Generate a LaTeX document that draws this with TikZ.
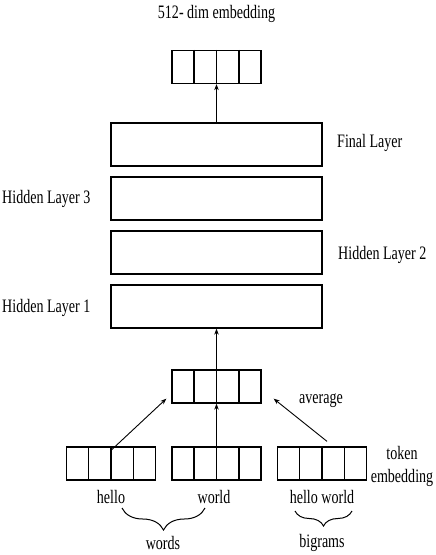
\documentclass[tikz,border=0pt]{standalone}
\usepackage{fontspec}
\setmainfont[FakeStretch=0.74]{Liberation Serif}
\usetikzlibrary{arrows.meta,decorations.pathreplacing,calc}
\begin{document}
\begin{tikzpicture}[x=1pt,y=-1pt,
  layer/.style={draw,line width=1.3pt,minimum width=211pt,minimum height=43pt,inner sep=0pt},
  vec/.style={draw,line width=1.3pt,minimum width=89pt,minimum height=33pt,inner sep=0pt},
  lbl/.style={font=\fontsize{19}{23}\selectfont,inner sep=0pt},
  conn/.style={line width=0.9pt,-{Stealth[length=6pt,width=4.5pt]}},
  brc/.style={line width=1pt,decoration={brace,mirror,amplitude=#1},decorate}
]
\useasboundingbox (0,0) rectangle (436,555);
% title
\node[lbl] (title) at (216.5,14) {512- dim embedding};
% output vector
\node[vec] (top) at (216.5,67) {};
% layers
\node[layer] (final) at (216.5,144.5) {};
\node[layer] (h3) at (216.5,198.5) {};
\node[layer] (h2) at (216.5,252.5) {};
\node[layer] (h1) at (216.5,306.5) {};
\node[lbl,anchor=west] (lfinal) at (337,143) {Final Layer};
\node[lbl,anchor=west] (lh3) at (2,199) {Hidden Layer 3};
\node[lbl,anchor=west] (lh2) at (338,255) {Hidden Layer 2};
\node[lbl,anchor=west] (lh1) at (2,308) {Hidden Layer 1};
% average vector
\node[vec] (avg) at (216.5,386.5) {};
\node[lbl] (lavg) at (321,401) {average};
% token vectors
\node[vec] (tl) at (111,463.5) {};
\node[vec] (tm) at (216.5,463.5) {};
\node[vec] (tr) at (322,463.5) {};
\node[lbl,align=center] (ltok) at (402,466) {token\\embedding};
% cell dividers
\foreach \v in {top,avg,tl,tm,tr}
  \foreach \i in {1,2,3}
    \draw[line width=1.3pt] ($(\v.north west)!\i/4!(\v.north east)$) -- ($(\v.south west)!\i/4!(\v.south east)$);
% words
\node[lbl] (hello) at (111,497) {hello};
\node[lbl] (world) at (214,497) {world};
\node[lbl] (hw) at (322,497) {hello world};
\node[lbl] (words) at (163,543) {words};
\node[lbl] (bigrams) at (322,543) {bigrams};
% arrows
\draw[conn] (final.north) -- (top.south);
\draw[conn] (avg.north) -- (h1.south);
\draw[conn] (tm.north) -- (avg.south);
\draw[conn] ([yshift=-4]tl.north) -- ([shift={(-5,-5)}]avg.south west);
\draw[conn] ([shift={(5,-5)}]tr.north) -- ([shift={(12,-5)}]avg.south east);
% braces
\coordinate (w1) at (122,508);
\coordinate (w2) at (205,508);
\coordinate (b1) at (295,511);
\coordinate (b2) at (352,511);
\draw[brc=22pt] (w1) -- (w2);
\draw[brc=15pt] (b1) -- (b2);
\end{tikzpicture}
\end{document}
